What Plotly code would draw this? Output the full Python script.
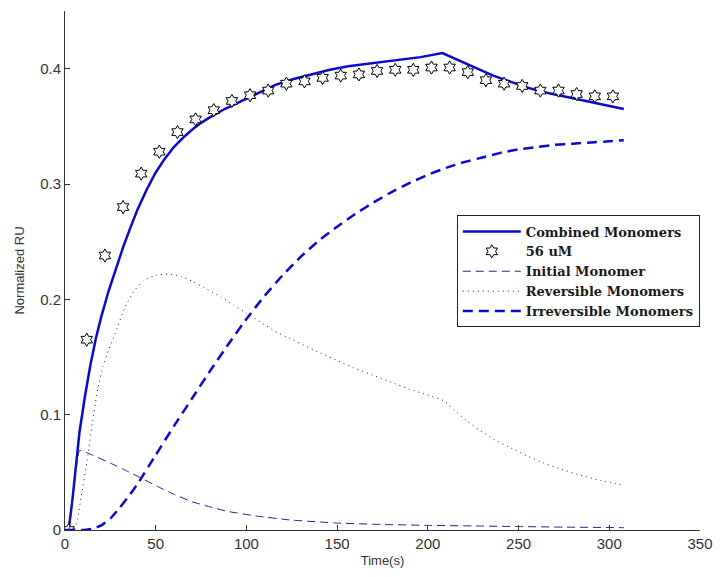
import plotly.graph_objects as go

# Time axis (s) and measured response for the 56 uM injection
star_t = [2, 12, 22, 32, 42, 52, 62, 72, 82, 92, 102, 112, 122, 132, 142, 152,
          162, 172, 182, 192, 202, 212, 222, 232, 242, 252, 262, 272, 282, 292, 302]
star_ru = [0.0, 0.165, 0.238, 0.280, 0.309, 0.328, 0.345, 0.356, 0.364, 0.372, 0.377,
           0.381, 0.387, 0.389, 0.392, 0.394, 0.395, 0.398, 0.399, 0.399, 0.401, 0.401,
           0.397, 0.390, 0.387, 0.385, 0.381, 0.381, 0.378, 0.376, 0.376]

# Model: combined monomers
comb_t = [0, 2, 4, 6, 8, 11, 14, 17, 20, 24, 28, 32, 36, 40, 45, 50, 55, 60, 65, 70,
          75, 80, 88, 96, 106, 116, 126, 136, 146, 156, 166, 176, 186, 196, 208,
          213, 218, 227, 236, 245, 254, 263, 272, 281, 290, 299, 308]
comb_ru = [0.0, 0.0, 0.025, 0.058, 0.085, 0.116, 0.143, 0.166, 0.185, 0.207, 0.227,
           0.245, 0.262, 0.278, 0.295, 0.310, 0.322, 0.332, 0.340, 0.347, 0.353, 0.358,
           0.365, 0.371, 0.378, 0.386, 0.391, 0.395, 0.399, 0.402, 0.404, 0.406, 0.408,
           0.410, 0.4135, 0.410, 0.406, 0.400, 0.394, 0.389, 0.384, 0.380, 0.377, 0.374,
           0.371, 0.368, 0.365]

# Model: initial monomer
init_t = [0, 2, 8, 15, 25, 33, 42, 52, 60, 70, 80, 90, 106, 124, 150, 175, 200, 225,
          250, 275, 308]
init_ru = [0.0, 0.0, 0.069, 0.065, 0.058, 0.052, 0.045, 0.037, 0.031, 0.0245, 0.020,
           0.016, 0.012, 0.0087, 0.006, 0.0048, 0.004, 0.0035, 0.003, 0.0025, 0.002]

# Model: reversible monomers
rev_t = [0, 5, 7, 9, 12, 15, 18, 21, 24, 28, 33, 38, 43, 50, 57, 64, 71, 78, 86, 93,
         100, 108, 116, 124, 132, 140, 150, 160, 170, 180, 190, 200, 209, 216, 222,
         228, 237, 246, 255, 264, 273, 283, 295, 308]
rev_ru = [0.0, 0.0, 0.010, 0.030, 0.058, 0.092, 0.122, 0.142, 0.156, 0.172, 0.193,
          0.207, 0.216, 0.221, 0.222, 0.220, 0.215, 0.209, 0.202, 0.195, 0.188, 0.180,
          0.172, 0.166, 0.160, 0.154, 0.147, 0.140, 0.134, 0.128, 0.122, 0.117, 0.112,
          0.102, 0.094, 0.087, 0.078, 0.071, 0.064, 0.058, 0.053, 0.048, 0.043, 0.039]

# Model: irreversible monomers
irr_t = [0, 10, 15, 20, 25, 30, 35, 40, 50, 60, 70, 80, 90, 100, 110, 120, 130, 140,
         150, 160, 170, 180, 190, 200, 210, 220, 230, 240, 250, 260, 270, 280, 290,
         300, 308]
irr_ru = [0.0, 0.0, 0.001, 0.004, 0.010, 0.019, 0.029, 0.040, 0.065, 0.090, 0.114,
          0.138, 0.161, 0.183, 0.203, 0.221, 0.237, 0.251, 0.263, 0.274, 0.284, 0.293,
          0.301, 0.308, 0.314, 0.319, 0.323, 0.327, 0.330, 0.332, 0.334, 0.335, 0.336,
          0.337, 0.338]

x_ticks = [0, 50, 100, 150, 200, 250, 300, 350]
y_ticks = [0, 0.1, 0.2, 0.3, 0.4]
y_tick_text = ["0", "0.1", "0.2", "0.3", "0.4"]

fig = go.Figure()

fig.add_trace(go.Scatter(
    x=comb_t, y=comb_ru, mode="lines", name="Combined Monomers",
    line=dict(color="#0a0acc", width=2.5)))

fig.add_trace(go.Scatter(
    x=star_t, y=star_ru, mode="markers", name="56 uM",
    marker=dict(symbol="hexagram", size=10, color="white",
                line=dict(color="black", width=1))))

fig.add_trace(go.Scatter(
    x=init_t, y=init_ru, mode="lines", name="Initial Monomer",
    line=dict(color="#20208e", width=1, dash="8px,5px", shape="spline", smoothing=0.3)))

fig.add_trace(go.Scatter(
    x=rev_t, y=rev_ru, mode="lines", name="Reversible Monomers",
    line=dict(color="#222222", width=1, dash="1px,4px", shape="spline", smoothing=0.3)))

fig.add_trace(go.Scatter(
    x=irr_t, y=irr_ru, mode="lines", name="Irreversible Monomers",
    line=dict(color="#0a0acc", width=2.5, dash="10px,6px", shape="spline", smoothing=0.3)))

tick_font = dict(family="Liberation Sans, Arial, sans-serif", size=15, color="#333333")
title_font = dict(family="Liberation Sans, Arial, sans-serif", size=13, color="#333333")

fig.update_layout(
    width=724, height=577,
    margin=dict(l=65, r=14, t=11, b=47),
    paper_bgcolor="white", plot_bgcolor="white",
    showlegend=True,
    legend=dict(
        x=0.617, y=0.606, xanchor="left", yanchor="top",
        bgcolor="white", bordercolor="#222222", borderwidth=1,
        font=dict(family="DejaVu Serif, serif", size=13, color="#1a1a1a",
                  weight="bold"),
        itemwidth=58, tracegroupgap=0,
    ),
    xaxis=dict(
        range=[0, 350], tickvals=x_ticks, ticks="inside", ticklen=5,
        tickcolor="#333333", showline=True, linecolor="#333333", linewidth=1,
        showgrid=False, zeroline=False, tickfont=tick_font,
        title=dict(text="Time(s)", font=title_font, standoff=4),
    ),
    yaxis=dict(
        range=[0, 0.45], tickvals=y_ticks, ticktext=y_tick_text, ticks="inside",
        ticklen=5, tickcolor="#333333", showline=True, linecolor="#333333",
        linewidth=1, showgrid=False, zeroline=False, tickfont=tick_font,
        title=dict(text="Normalized RU", font=title_font, standoff=12),
    ),
)

fig.write_html("out.html")
